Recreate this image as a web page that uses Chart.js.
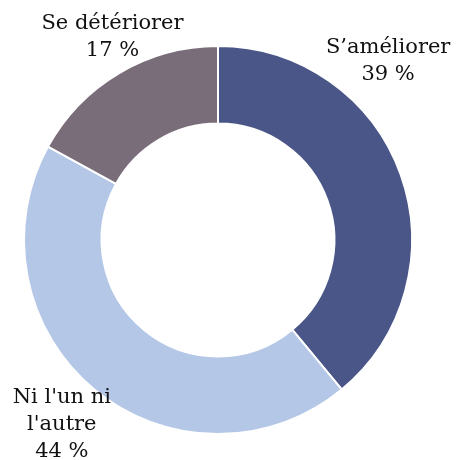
<!DOCTYPE html>
<html>
<head>
<meta charset="utf-8">
<script src="https://cdn.jsdelivr.net/npm/chart.js@4/dist/chart.umd.min.js"></script>
<style>
  html, body { margin: 0; padding: 0; background: #fff; }
  #wrap { width: 456px; height: 460px; }
</style>
</head>
<body>
<div id="wrap"><canvas id="donut"></canvas></div>
<script>
// données
const categories = ['S’améliorer', 'Ni l\'un ni l\'autre', 'Se détériorer'];
const labelLines = [['S’améliorer'], ['Ni l\'un ni', 'l\'autre'], ['Se détériorer']];
const values = [39, 44, 17];
const colors = ['#4a5688', '#b4c7e7', '#7a6d7a'];

// position of each label relative to chart centre, in outer radius units
const labelOffsets = [[0.877, -0.923], [-0.805, 0.949], [-0.544, -1.046]];

const labelPlugin = {
  id: 'sliceLabels',
  afterDraw(chart) {
    const ctx = chart.ctx;
    const arc0 = chart.getDatasetMeta(0).data[0];
    const cx = arc0.x, cy = arc0.y, r = arc0.outerRadius;
    ctx.save();
    ctx.font = '21px "DejaVu Serif"';
    ctx.fillStyle = '#111';
    ctx.textAlign = 'center';
    ctx.textBaseline = 'middle';
    const lh = 27;
    values.forEach((v, i) => {
      const lines = labelLines[i].concat([v + ' %']);
      const x = cx + labelOffsets[i][0] * r;
      const y = cy + labelOffsets[i][1] * r;
      const top = y - (lines.length - 1) * lh / 2;
      lines.forEach((t, j) => ctx.fillText(t, x, top + j * lh));
    });
    ctx.restore();
  }
};

new Chart(document.getElementById('donut'), {
  type: 'doughnut',
  data: {
    labels: categories,
    datasets: [{
      data: values,
      backgroundColor: colors,
      borderColor: '#ffffff',
      borderWidth: 2
    }]
  },
  options: {
    responsive: true,
    maintainAspectRatio: false,
    animation: false,
    cutout: '60%',
    layout: { padding: { top: 45, bottom: 25, left: 23, right: 43 } },
    plugins: { legend: { display: false }, tooltip: { enabled: false } }
  },
  plugins: [labelPlugin]
});
</script>
</body>
</html>
